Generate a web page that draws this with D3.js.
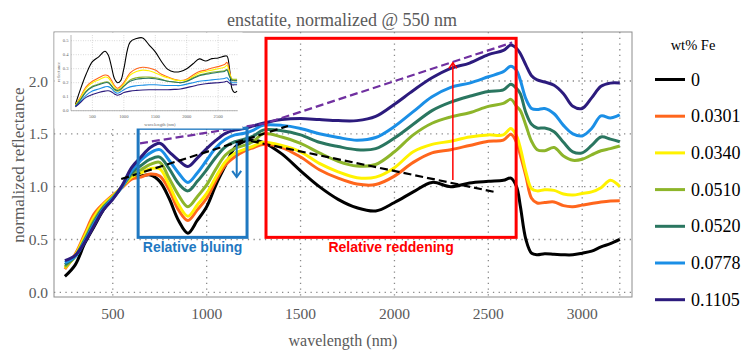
<!DOCTYPE html>
<html><head><meta charset="utf-8">
<script src="https://cdn.jsdelivr.net/npm/d3@7"></script>
<style>body{margin:0;background:#fff}svg{display:block}</style>
</head><body>
<svg id="c" width="744" height="354"></svg>
<script>
// ---------- data (main plot, normalized @ 550 nm) ----------
const wavelengths = [245,300,350,400,450,500,550,600,650,700,750,800,850,900,950,1000,1050,1100,1150,1200,1250,1300,1400,1500,1600,1700,1800,1900,2000,2100,2200,2300,2400,2500,2580,2620,2650,2670,2700,2730,2760,2800,2850,2900,2950,3000,3050,3100,3150,3200];
const fe0      = [0.15,0.26,0.46,0.62,0.78,0.89,1.00,1.08,1.10,1.11,1.05,0.89,0.68,0.56,0.68,0.81,1.02,1.20,1.37,1.43,1.44,1.42,1.31,1.15,1.00,0.88,0.80,0.77,0.85,0.95,1.04,1.00,1.035,1.05,1.06,1.08,1.00,0.82,0.50,0.37,0.355,0.365,0.36,0.355,0.355,0.37,0.39,0.43,0.46,0.50];
const fe0301   = [0.22,0.36,0.55,0.74,0.84,0.92,0.99,1.07,1.09,1.12,1.10,0.97,0.78,0.68,0.78,0.89,1.06,1.205,1.283,1.337,1.37,1.40,1.37,1.28,1.16,1.08,1.025,1.02,1.10,1.23,1.32,1.35,1.39,1.43,1.44,1.495,1.42,1.30,1.10,0.89,0.845,0.85,0.855,0.82,0.81,0.825,0.84,0.855,0.865,0.867];
const fe0340   = [0.23,0.35,0.53,0.71,0.83,0.91,1.00,1.09,1.13,1.17,1.17,1.016,0.83,0.72,0.826,0.937,1.094,1.236,1.316,1.353,1.385,1.42,1.39,1.33,1.22,1.14,1.085,1.09,1.18,1.33,1.40,1.43,1.47,1.49,1.49,1.55,1.48,1.37,1.14,0.98,0.96,0.97,0.965,0.93,0.92,0.935,0.95,0.99,1.06,1.00];
const fe0510   = [0.24,0.34,0.50,0.68,0.81,0.90,1.00,1.11,1.16,1.21,1.23,1.08,0.92,0.81,0.905,1.016,1.17,1.30,1.363,1.39,1.43,1.50,1.47,1.41,1.32,1.24,1.195,1.21,1.33,1.49,1.60,1.66,1.70,1.76,1.788,1.826,1.76,1.72,1.58,1.43,1.35,1.34,1.37,1.29,1.25,1.26,1.30,1.34,1.36,1.385];
const fe0520   = [0.26,0.34,0.49,0.66,0.80,0.89,1.00,1.13,1.20,1.26,1.28,1.17,1.03,0.96,1.05,1.16,1.28,1.378,1.425,1.45,1.48,1.535,1.53,1.49,1.42,1.38,1.35,1.36,1.46,1.59,1.72,1.80,1.855,1.90,1.915,1.969,1.93,1.88,1.70,1.59,1.555,1.555,1.52,1.42,1.33,1.32,1.39,1.47,1.45,1.425];
const fe0778   = [0.28,0.34,0.48,0.65,0.79,0.89,1.00,1.15,1.25,1.32,1.35,1.25,1.13,1.04,1.13,1.25,1.37,1.448,1.49,1.505,1.536,1.58,1.58,1.55,1.50,1.465,1.44,1.465,1.57,1.71,1.85,1.94,1.98,2.04,2.088,2.14,2.10,2.01,1.83,1.74,1.73,1.74,1.69,1.58,1.50,1.48,1.55,1.67,1.65,1.68];
const fe1105   = [0.30,0.35,0.47,0.63,0.78,0.88,1.01,1.18,1.28,1.37,1.41,1.33,1.25,1.19,1.27,1.36,1.44,1.505,1.535,1.55,1.575,1.60,1.635,1.645,1.635,1.625,1.625,1.665,1.78,1.91,2.03,2.12,2.17,2.25,2.29,2.34,2.31,2.26,2.15,2.05,2.01,1.99,1.96,1.88,1.76,1.74,1.84,1.95,1.98,1.98];
const seriesLabels = ["0","0.0301","0.0340","0.0510","0.0520","0.0778","0.1105"];
const seriesColors = ["#000000","#ff661c","#fff200","#8db52a","#2a7660","#1b8fe6","#2c1b7d"];
const xTicks = [500,1000,1500,2000,2500,3000];
const xGridExtra = [3200];
const yTicks = [0,0.5,1.0,1.5,2.0];

// ---------- inset data (absolute reflectance) ----------
const insetWavelengths = [230,300,400,500,600,700,750,800,850,900,950,1000,1100,1200,1300,1400,1500,1600,1700,1800,1900,2000,2100,2200,2300,2400,2500,2600,2640,2680,2720,2760,2800];
const inset0    = [0.045,0.14,0.26,0.35,0.385,0.425,0.40,0.32,0.23,0.20,0.215,0.30,0.49,0.515,0.52,0.47,0.42,0.35,0.295,0.277,0.28,0.30,0.335,0.37,0.355,0.372,0.377,0.39,0.39,0.30,0.155,0.13,0.14];
const inset0301 = [0.04,0.09,0.17,0.21,0.235,0.255,0.25,0.22,0.18,0.16,0.175,0.20,0.27,0.30,0.31,0.305,0.29,0.26,0.24,0.225,0.215,0.225,0.255,0.28,0.29,0.305,0.315,0.33,0.345,0.28,0.22,0.215,0.215];
const inset0340 = [0.04,0.085,0.16,0.20,0.22,0.24,0.235,0.205,0.17,0.15,0.165,0.19,0.255,0.28,0.29,0.285,0.27,0.25,0.235,0.22,0.215,0.22,0.245,0.27,0.28,0.29,0.30,0.31,0.325,0.27,0.225,0.22,0.22];
const inset0510 = [0.035,0.075,0.14,0.175,0.19,0.205,0.205,0.18,0.15,0.14,0.15,0.175,0.22,0.235,0.24,0.24,0.235,0.225,0.21,0.205,0.20,0.21,0.235,0.255,0.265,0.275,0.28,0.285,0.295,0.25,0.225,0.225,0.225];
const inset0520 = [0.035,0.07,0.135,0.17,0.185,0.20,0.20,0.18,0.155,0.145,0.155,0.175,0.21,0.225,0.23,0.232,0.228,0.22,0.21,0.205,0.20,0.21,0.23,0.25,0.26,0.268,0.275,0.28,0.29,0.245,0.215,0.215,0.215];
const inset0778 = [0.03,0.06,0.11,0.14,0.155,0.17,0.172,0.16,0.135,0.125,0.135,0.15,0.17,0.178,0.182,0.185,0.185,0.182,0.18,0.18,0.18,0.19,0.20,0.21,0.215,0.22,0.225,0.23,0.235,0.215,0.20,0.20,0.20];
const inset1105 = [0.028,0.055,0.095,0.115,0.13,0.14,0.142,0.135,0.12,0.11,0.118,0.13,0.14,0.145,0.148,0.15,0.15,0.15,0.15,0.152,0.155,0.165,0.175,0.185,0.192,0.197,0.20,0.205,0.21,0.195,0.185,0.185,0.185];
const insetXTicks = [500,1000,1500,2000,2500];
const insetYTicks = [0,0.1,0.2,0.3,0.4,0.5];

// ---------- annotations (data coordinates) ----------
const blueBox = {x0:635, x1:1215, y0:0.52, y1:1.552};
const redBox  = {x0:1316, x1:2648, y0:0.52, y1:2.404};
const hullLine = [[645,1.41],[1311,1.598],[2627,2.364]];
const blackDashA = [[545,1.072],[1433,1.574]];
const blackDashB = [[1235,1.432],[2536,0.949]];
const blueArrow = {x:1160, from:1.414, to:1.09};
const redArrow = {x:2311, from:1.063, to:2.173};

const mainSeries = [fe0,fe0301,fe0340,fe0510,fe0520,fe0778,fe1105];
const insetSeries = [inset0,inset0301,inset0340,inset0510,inset0520,inset0778,inset1105];

// ---------- drawing ----------
const svg = d3.select("#c");
const L=54, R=632, T=32, B=297;
const x = d3.scaleLinear().domain([187,3265]).range([L,R]);
const y = d3.scaleLinear().domain([0,2]).range([292.3,81]);
const serif = "'Liberation Serif','Times New Roman',serif";
const gray = "#5a5a5a";

// grid
const grid = svg.append("g").attr("stroke","#8a8a8a").attr("stroke-width",1.3).attr("stroke-dasharray","1.3,4.4");
xTicks.concat(xGridExtra).forEach(t=>grid.append("line").attr("x1",x(t)).attr("x2",x(t)).attr("y1",T).attr("y2",B));
yTicks.forEach(t=>grid.append("line").attr("x1",L).attr("x2",R).attr("y1",y(t)).attr("y2",y(t)));

// frame
svg.append("rect").attr("x",L).attr("y",T).attr("width",R-L).attr("height",B-T)
  .attr("fill","none").attr("stroke","#8c8c8c").attr("stroke-width",1);

// tick labels
svg.append("g").selectAll("text").data(xTicks).join("text")
  .attr("x",d=>x(d)).attr("y",319).attr("text-anchor","middle")
  .attr("font-family",serif).attr("font-size",15.5).attr("fill",gray).text(d=>d);
svg.append("g").selectAll("text").data(yTicks).join("text")
  .attr("x",48).attr("y",d=>y(d)+5.5).attr("text-anchor","end")
  .attr("font-family",serif).attr("font-size",15.5).attr("fill",gray).text(d=>d3.format(".1f")(d));

// axis labels + title
svg.append("text").attr("x",343).attr("y",346).attr("text-anchor","middle")
  .attr("font-family",serif).attr("font-size",16).attr("fill",gray).text("wavelength (nm)");
svg.append("text").attr("transform","translate(24,165) rotate(-90)").attr("text-anchor","middle")
  .attr("font-family",serif).attr("font-size",17).attr("fill",gray).text("normalized reflectance");
svg.append("text").attr("x",342).attr("y",26).attr("text-anchor","middle")
  .attr("font-family",serif).attr("font-size",18).attr("fill",gray).text("enstatite, normalized @ 550 nm");

// curves
const line = d3.line().x(d=>x(d[0])).y(d=>y(d[1])).curve(d3.curveCatmullRom.alpha(0.5));
mainSeries.forEach((s,i)=>{
  svg.append("path").datum(wavelengths.map((w,j)=>[w,s[j]]))
    .attr("d",line).attr("fill","none").attr("stroke",seriesColors[i]).attr("stroke-width",3)
    .attr("stroke-linejoin","round");
});

// dashed continuum lines
const straight = d3.line().x(d=>x(d[0])).y(d=>y(d[1]));
svg.append("path").datum(hullLine).attr("d",straight).attr("fill","none")
  .attr("stroke","#7030a0").attr("stroke-width",2.2).attr("stroke-dasharray","8,4");
[blackDashA,blackDashB].forEach(seg=>svg.append("path").datum(seg).attr("d",straight).attr("fill","none")
  .attr("stroke","#000").attr("stroke-width",2.2).attr("stroke-dasharray","8,4"));

// boxes
const boxBlue = "#1f78c1", boxRed = "#ff0000";
svg.append("rect").attr("x",x(blueBox.x0)).attr("y",y(blueBox.y1))
  .attr("width",x(blueBox.x1)-x(blueBox.x0)).attr("height",y(blueBox.y0)-y(blueBox.y1))
  .attr("fill","none").attr("stroke",boxBlue).attr("stroke-width",3);
svg.append("rect").attr("x",x(redBox.x0)).attr("y",y(redBox.y1))
  .attr("width",x(redBox.x1)-x(redBox.x0)).attr("height",y(redBox.y0)-y(redBox.y1))
  .attr("fill","none").attr("stroke",boxRed).attr("stroke-width",3);
svg.append("text").attr("x",(x(blueBox.x0)+x(blueBox.x1))/2).attr("y",252).attr("text-anchor","middle")
  .attr("font-family","'Liberation Sans',Arial,sans-serif").attr("font-weight","bold").attr("font-size",14)
  .attr("fill",boxBlue).text("Relative bluing");
svg.append("text").attr("x",(x(redBox.x0)+x(redBox.x1))/2).attr("y",252).attr("text-anchor","middle")
  .attr("font-family","'Liberation Sans',Arial,sans-serif").attr("font-weight","bold").attr("font-size",14)
  .attr("fill",boxRed).text("Relative reddening");

// arrows
function arrow(xv,y0,y1,color,w,head){
  const ax=x(xv), a=y(y0), b=y(y1), dir = b>a?-1:1;
  svg.append("line").attr("x1",ax).attr("x2",ax).attr("y1",a).attr("y2",b).attr("stroke",color).attr("stroke-width",w);
  svg.append("path").attr("d",`M${ax-head},${b+dir*head*1.4}L${ax},${b}L${ax+head},${b+dir*head*1.4}`)
    .attr("fill","none").attr("stroke",color).attr("stroke-width",w);
}
arrow(blueArrow.x,blueArrow.from,blueArrow.to,boxBlue,2,4.5);
arrow(redArrow.x,redArrow.from,redArrow.to,boxRed,1.5,4);

// ---------- inset ----------
const ins = svg.append("g");
ins.append("rect").attr("x",L+0.5).attr("y",T+0.5).attr("width",188).attr("height",96).attr("fill","#fff");
const xi = d3.scaleLinear().domain([160,2810]).range([71,237.7]);
const yi = d3.scaleLinear().domain([0,0.5]).range([110.7,40.7]);
const ig = ins.append("g").attr("stroke","#b0b0b0").attr("stroke-width",0.6).attr("stroke-dasharray","0.8,1.6");
insetXTicks.forEach(t=>ig.append("line").attr("x1",xi(t)).attr("x2",xi(t)).attr("y1",35).attr("y2",110.7));
insetYTicks.forEach(t=>ig.append("line").attr("x1",71).attr("x2",237.7).attr("y1",yi(t)).attr("y2",yi(t)));
ins.append("path").attr("d",`M71,35V110.7H237.7`).attr("fill","none").attr("stroke","#9a9a9a").attr("stroke-width",0.7);
ins.selectAll("text.ix").data(insetXTicks).join("text").attr("class","ix")
  .attr("x",d=>xi(d)).attr("y",118).attr("text-anchor","middle")
  .attr("font-family",serif).attr("font-size",4.6).attr("fill","#666").text(d=>d);
ins.selectAll("text.iy").data(insetYTicks).join("text").attr("class","iy")
  .attr("x",68.5).attr("y",d=>yi(d)+1.6).attr("text-anchor","end")
  .attr("font-family",serif).attr("font-size",4.6).attr("fill","#666").text(d=>d3.format(".1f")(d));
ins.append("text").attr("x",160).attr("y",125.5).attr("text-anchor","middle")
  .attr("font-family",serif).attr("font-size",4.6).attr("fill","#666").text("wavelength (nm)");
ins.append("text").attr("transform","translate(60,72) rotate(-90)").attr("text-anchor","middle")
  .attr("font-family",serif).attr("font-size",4.6).attr("fill","#666").text("reflectance");
const iline = d3.line().x(d=>xi(d[0])).y(d=>yi(d[1])).curve(d3.curveCatmullRom.alpha(0.5));
insetSeries.forEach((s,i)=>{
  ins.append("path").datum(insetWavelengths.map((w,j)=>[w,s[j]]))
    .attr("d",iline).attr("fill","none").attr("stroke",seriesColors[i]).attr("stroke-width",1.1);
});

// ---------- legend ----------
const lg = svg.append("g");
lg.append("text").attr("x",693).attr("y",50).attr("text-anchor","middle")
  .attr("font-family",serif).attr("font-size",14.5).attr("fill","#000").text("wt% Fe");
seriesLabels.forEach((lab,i)=>{
  const yy = 79.5 + i*36.7;
  lg.append("line").attr("x1",655).attr("x2",685).attr("y1",yy).attr("y2",yy)
    .attr("stroke",seriesColors[i]).attr("stroke-width",3);
  lg.append("text").attr("x",691).attr("y",yy+6).attr("font-family",serif).attr("font-size",18)
    .attr("fill","#000").text(lab);
});
</script>
</body></html>
